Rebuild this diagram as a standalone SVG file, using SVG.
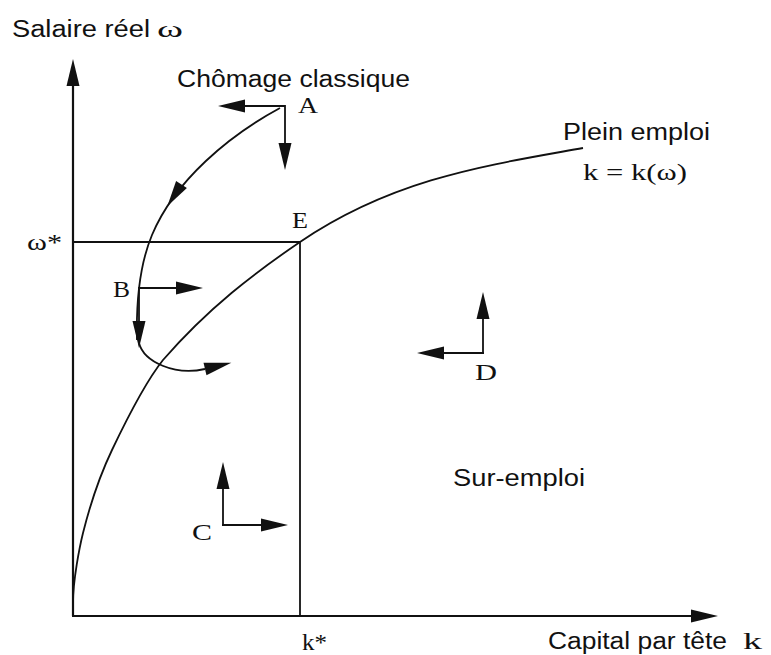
<svg xmlns="http://www.w3.org/2000/svg" width="771" height="655" viewBox="0 0 771 655">
<style>
.sans{font-family:"Liberation Sans",Arial,sans-serif;font-size:23px;fill:#111}
.serif{font-family:"Liberation Serif","Times New Roman",serif;font-size:23px;fill:#111}
.ln{fill:none;stroke:#111;stroke-width:1.8}
.ax{fill:none;stroke:#111;stroke-width:2.2}
.head{fill:#111;stroke:none}
</style>
<defs>
<marker id="arr" markerUnits="userSpaceOnUse" markerWidth="28" markerHeight="14" refX="0" refY="6.5" orient="auto" overflow="visible">
<path d="M0,0 L27,6.5 L0,13 Z" fill="#111"/>
</marker>
</defs>
<rect width="771" height="655" fill="#fff"/>

<g id="axes">
<line class="ax" x1="73" y1="616" x2="73" y2="86" marker-end="url(#arr)"/>
<line class="ax" x1="72" y1="616" x2="691" y2="616" marker-end="url(#arr)"/>
<text class="sans" x="12" y="37" textLength="138" lengthAdjust="spacingAndGlyphs">Salaire réel</text>
<text class="serif" x="157" y="37" textLength="26" lengthAdjust="spacingAndGlyphs">ω</text>
<text class="sans" x="548" y="649" textLength="179" lengthAdjust="spacingAndGlyphs">Capital par tête</text>
<text class="serif" x="743" y="649" textLength="19" lengthAdjust="spacingAndGlyphs">k</text>
</g>

<g id="equilibrium-lines">
<line class="ln" x1="73" y1="242" x2="300" y2="242"/>
<line class="ln" x1="300" y1="242" x2="300" y2="616"/>
<text class="serif" x="27" y="250" textLength="35" lengthAdjust="spacingAndGlyphs">ω*</text>
<text class="serif" x="302" y="650" textLength="25" lengthAdjust="spacingAndGlyphs">k*</text>
</g>

<g id="full-employment-curve">
<path class="ln" d="M73,603 C73,580 79.7,546.3 83,533 C92.7,494.3 102.3,470.3 112,450 C129,414.3 146,381.3 163,360 C208.7,307.5 254.3,273.1 300,242 C394.3,177.9 488.7,165 583,148"/>
<text class="sans" x="563" y="140" textLength="147" lengthAdjust="spacingAndGlyphs">Plein emploi</text>
<text class="serif" x="583" y="180" textLength="104" lengthAdjust="spacingAndGlyphs">k = k(ω)</text>
</g>

<g id="region-labels">
<text class="sans" x="177" y="87" textLength="233" lengthAdjust="spacingAndGlyphs">Chômage classique</text>
<text class="sans" x="453" y="486" textLength="132" lengthAdjust="spacingAndGlyphs">Sur-emploi</text>
</g>

<g id="node-A">
<text class="serif" x="298" y="113" textLength="20" lengthAdjust="spacingAndGlyphs">A</text>
</g>
<g id="node-E">
<text class="serif" x="292" y="228" textLength="16" lengthAdjust="spacingAndGlyphs">E</text>
</g>
<g id="node-B">
<text class="serif" x="113" y="297" textLength="17" lengthAdjust="spacingAndGlyphs">B</text>
</g>
<g id="node-C">
<text class="serif" x="192" y="540" textLength="20" lengthAdjust="spacingAndGlyphs">C</text>
</g>
<g id="node-D">
<text class="serif" x="475" y="380" textLength="22" lengthAdjust="spacingAndGlyphs">D</text>
</g>

<g id="connectors">
<line class="ln" x1="285" y1="106" x2="245" y2="106" marker-end="url(#arr)"/>
<line class="ln" x1="285" y1="105" x2="285" y2="143" marker-end="url(#arr)"/>
<line class="ln" x1="139" y1="288" x2="176" y2="288" marker-end="url(#arr)"/>
<line class="ln" x1="139" y1="287" x2="139" y2="321" marker-end="url(#arr)"/>
<line class="ln" x1="223" y1="526" x2="223" y2="489" marker-end="url(#arr)"/>
<line class="ln" x1="222" y1="525" x2="261" y2="525" marker-end="url(#arr)"/>
<line class="ln" x1="483" y1="354" x2="483" y2="319" marker-end="url(#arr)"/>
<line class="ln" x1="484" y1="353" x2="444" y2="353" marker-end="url(#arr)"/>
<path class="ln" d="M280,108 C230,135 175,180 152,235 C140.5,262.5 136,300 137,340"/>
<polygon class="head" points="167.3,206.3 186.9,188 176.1,181"/>
<path class="ln" d="M139,343 C144,362 175,376 205,369" marker-end="url(#arr)"/>
</g>
</svg>
